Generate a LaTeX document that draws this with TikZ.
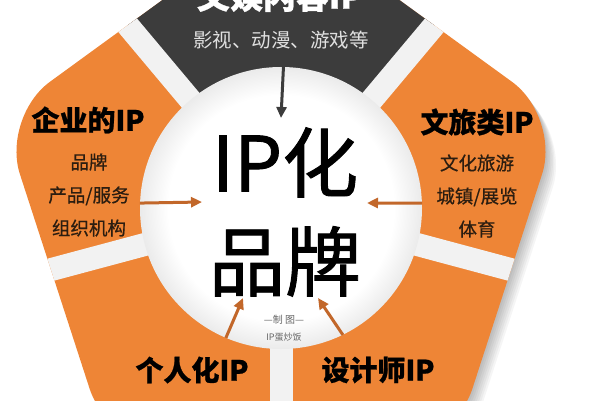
\documentclass[tikz,border=0pt]{standalone}
\usepackage{fontspec}
\newfontfamily\cjk{Noto Sans CJK SC}[BoldFeatures={FakeBold=0.8}]
\newfontfamily\cjkmid{Noto Sans CJK SC}[FakeBold=1.2]
\newfontfamily\cjkitem{Noto Sans CJK SC}[FakeBold=0.6]
\usetikzlibrary{arrows.meta}

\definecolor{ipOrange}{HTML}{EE8536}
\definecolor{ipDark}{HTML}{3C3C3C}
\definecolor{ipArrow}{HTML}{C2672A}
\definecolor{ipInk}{HTML}{2B1D10}

\newcommand{\ipPentagon}{(126:238) -- (162:294) -- (234:294) -- (306:294) -- (18:294) -- (90:294) -- cycle}
\pgfdeclareradialshading{corefade}{\pgfpoint{0bp}{0bp}}{color(0bp)=(white); color(20bp)=(white); color(25bp)=(black!8); color(50bp)=(black!8)}

\begin{document}
\begin{tikzpicture}[x=1pt,y=1pt,
title/.style={font=\cjk\bfseries\fontsize{28}{30}\selectfont,text=black},
item/.style={font=\cjkitem\fontsize{18.5}{33}\selectfont,text=ipInk,align=center},
arr/.style={line width=3pt,-{Triangle[length=11pt,width=10pt]}}
]
\useasboundingbox (0,0) rectangle (600,400);
\clip (0,0) rectangle (600,400);
\fill[white] (0,0) rectangle (600,400);

% ring of segments
\begin{scope}[shift={(281,192)}]
\foreach \k in {1,...,7}
  \fill[black,opacity=0.04,rounded corners=60pt,shift={(1.5*\k,-2*\k)}] \ipPentagon;
\fill[ipOrange,rounded corners=60pt] \ipPentagon;
\begin{scope}
\clip (0,0) -- (50:500) -- (90:500) -- (130:500) -- cycle;
\fill[ipDark,rounded corners=60pt] \ipPentagon;
\end{scope}
\begin{scope}
\clip[rounded corners=60pt] \ipPentagon;
\foreach \a in {50,130,195,270,345}
  \draw[black!5,line width=23pt] (0,0) -- (\a:450);
\end{scope}
\end{scope}

\node (core) [circle,minimum size=282pt,inner sep=0pt,shading=corefade] at (281,192) {};

\node (media) [font=\cjk\bfseries\fontsize{33}{35}\selectfont,text=white] at (280,404) {文娱内容IP};
\node (mediasub) [font=\cjk\fontsize{19.5}{20}\selectfont,text=black!12] at (281,360) {影视、动漫、游戏等};
\node (corp) [title] at (88,280) {企业的IP};
\node (corpsub) [item] at (89,205) {品牌\\产品/服务\\组织机构};
\node (tour) [title] at (477,278) {文旅类IP};
\node (toursub) [item] at (477,204) {文化旅游\\城镇/展览\\体育};
\node (person) [title] at (192,30) {个人化IP};
\node (designer) [title] at (378,30) {设计师IP};
\node (brand) [font=\cjkmid\fontsize{76}{99}\selectfont,align=center] at (285,188) {IP化\\品牌};
\node (credit) [font=\cjk\fontsize{10}{12}\selectfont,text=black!60] at (284,80) {—制\ 图—};
\node (creditsub) [font=\cjk\fontsize{9}{11}\selectfont,text=black!60] at (284,63) {IP蛋炒饭};

\coordinate (tipT) at (281,282);
\coordinate (tipL) at (202,198);
\coordinate (tipR) at (367,197);
\coordinate (tipBL) at (243,102);
\coordinate (tipBR) at (318,102);

\draw [arr,ipDark] (core.89) to (tipT);
\draw [arr,ipArrow] (core.178) to (tipL);
\draw [arr,ipArrow] (core.2) to (tipR);
\draw [arr,ipArrow] (core.247) to (tipBL);
\draw [arr,ipArrow] (core.296) to (tipBR);

\end{tikzpicture}
\end{document}
